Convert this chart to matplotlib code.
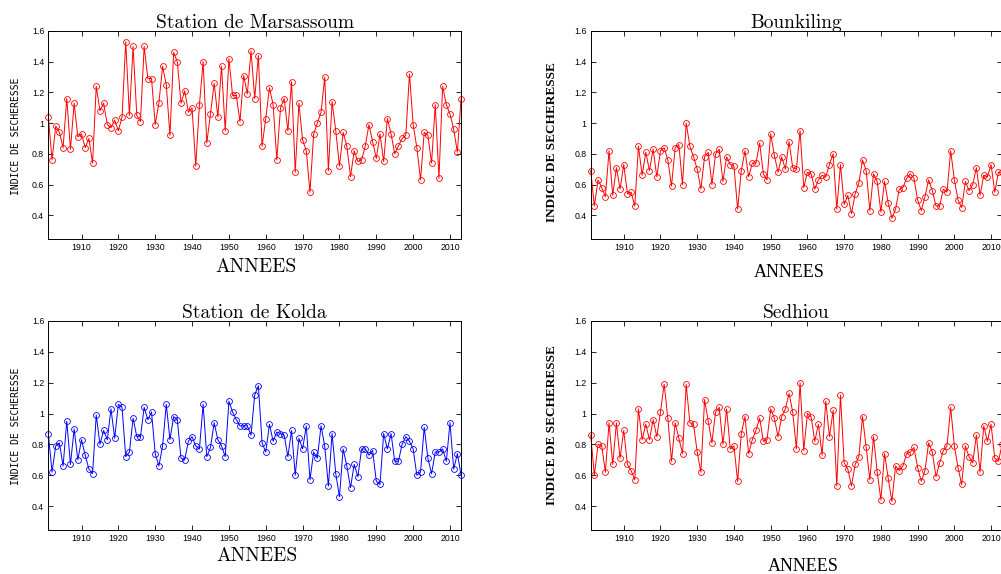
#Drought index plots for the four stations (Marsassoum, Bounkiling, Kolda, Sedhiou)

import matplotlib
matplotlib.use('Agg')
import matplotlib.pyplot as plt

years = list(range(1901, 2014))

marsassoum = [1.04, 0.76, 0.98, 0.94, 0.84, 1.16, 0.83, 1.13, 0.91, 0.93,
	0.84, 0.90, 0.74, 1.24, 1.08, 1.13, 0.99, 0.97, 1.02, 0.95,
	1.04, 1.53, 1.05, 1.50, 1.05, 1.01, 1.50, 1.29, 1.29, 0.99,
	1.13, 1.37, 1.25, 0.92, 1.46, 1.40, 1.13, 1.21, 1.07, 1.10,
	0.72, 1.12, 1.40, 0.87, 1.06, 1.26, 1.04, 1.37, 0.95, 1.42,
	1.18, 1.18, 1.01, 1.31, 1.19, 1.47, 1.16, 1.44, 0.85, 1.03,
	1.23, 1.12, 0.76, 1.10, 1.16, 0.95, 1.27, 0.68, 1.13, 0.89,
	0.82, 0.55, 0.93, 1.00, 1.07, 1.30, 0.69, 1.14, 0.95, 0.72,
	0.94, 0.85, 0.65, 0.82, 0.75, 0.76, 0.85, 0.99, 0.88, 0.77,
	0.93, 0.75, 1.03, 0.93, 0.80, 0.85, 0.90, 0.92, 1.32, 0.99,
	0.84, 0.63, 0.94, 0.92, 0.74, 1.12, 0.64, 1.24, 1.12, 1.06,
	0.96, 0.81, 1.16]

bounkiling = [0.69, 0.46, 0.63, 0.58, 0.52, 0.82, 0.53, 0.71, 0.57, 0.73,
	0.54, 0.55, 0.46, 0.85, 0.66, 0.81, 0.69, 0.83, 0.65, 0.82,
	0.84, 0.76, 0.59, 0.84, 0.86, 0.60, 1.00, 0.85, 0.78, 0.70,
	0.57, 0.78, 0.81, 0.60, 0.80, 0.83, 0.62, 0.78, 0.73, 0.72,
	0.44, 0.69, 0.82, 0.65, 0.74, 0.74, 0.87, 0.67, 0.63, 0.93,
	0.79, 0.68, 0.78, 0.70, 0.88, 0.71, 0.70, 0.95, 0.58, 0.68,
	0.67, 0.57, 0.63, 0.66, 0.65, 0.73, 0.80, 0.44, 0.73, 0.47,
	0.53, 0.41, 0.54, 0.61, 0.76, 0.69, 0.43, 0.67, 0.62, 0.42,
	0.62, 0.48, 0.38, 0.44, 0.57, 0.58, 0.64, 0.67, 0.64, 0.50,
	0.43, 0.52, 0.63, 0.56, 0.46, 0.46, 0.57, 0.55, 0.82, 0.63,
	0.50, 0.45, 0.62, 0.56, 0.60, 0.71, 0.53, 0.66, 0.65, 0.73,
	0.55, 0.68, 0.68]

kolda = [0.87, 0.62, 0.79, 0.81, 0.66, 0.95, 0.67, 0.90, 0.70, 0.83,
	0.73, 0.64, 0.61, 0.99, 0.80, 0.89, 0.83, 1.03, 0.84, 1.06,
	1.04, 0.72, 0.75, 0.97, 0.85, 0.85, 1.04, 0.96, 1.01, 0.74,
	0.66, 0.79, 1.06, 0.83, 0.98, 0.96, 0.71, 0.70, 0.82, 0.85,
	0.79, 0.77, 1.06, 0.72, 0.78, 0.94, 0.83, 0.79, 0.72, 1.08,
	1.01, 0.96, 0.92, 0.92, 0.92, 0.86, 1.12, 1.18, 0.81, 0.75,
	0.93, 0.82, 0.88, 0.87, 0.86, 0.72, 0.89, 0.60, 0.84, 0.77,
	0.92, 0.57, 0.75, 0.71, 0.92, 0.79, 0.53, 0.87, 0.61, 0.46,
	0.77, 0.66, 0.52, 0.67, 0.59, 0.77, 0.77, 0.73, 0.76, 0.56,
	0.54, 0.87, 0.77, 0.87, 0.69, 0.69, 0.80, 0.85, 0.82, 0.77,
	0.60, 0.62, 0.91, 0.71, 0.61, 0.75, 0.75, 0.77, 0.69, 0.94,
	0.64, 0.74, 0.60]

sedhiou = [0.86, 0.60, 0.80, 0.79, 0.62, 0.94, 0.67, 0.94, 0.71, 0.89,
	0.67, 0.63, 0.57, 1.03, 0.83, 0.93, 0.83, 0.96, 0.85, 1.01,
	1.19, 0.97, 0.69, 0.94, 0.84, 0.74, 1.19, 0.94, 0.93, 0.75,
	0.62, 1.09, 0.95, 0.81, 1.01, 1.04, 0.80, 1.03, 0.77, 0.79,
	0.56, 0.87, 0.98, 0.74, 0.83, 0.89, 0.97, 0.82, 0.83, 1.03,
	0.97, 0.85, 0.98, 1.03, 1.13, 1.01, 0.77, 1.20, 0.76, 1.00,
	0.98, 0.82, 0.93, 0.73, 1.08, 0.85, 1.02, 0.53, 1.12, 0.68,
	0.64, 0.53, 0.67, 0.72, 0.98, 0.78, 0.57, 0.85, 0.62, 0.44,
	0.74, 0.58, 0.43, 0.66, 0.63, 0.66, 0.74, 0.75, 0.78, 0.65,
	0.56, 0.63, 0.81, 0.75, 0.59, 0.68, 0.76, 0.79, 1.04, 0.79,
	0.65, 0.54, 0.79, 0.72, 0.68, 0.86, 0.62, 0.92, 0.82, 0.93,
	0.71, 0.69, 0.80]

xticks = [1910, 1920, 1930, 1940, 1950, 1960, 1970, 1980, 1990, 2000, 2010]
yticks = [0.4, 0.6, 0.8, 1.0, 1.2, 1.4, 1.6]
ylabels = ['0.4', '0.6', '0.8', '1', '1.2', '1.4', '1.6']

fig = plt.figure(figsize=(10.01, 5.74), dpi=100)


def Panel(rect, values, colour, title):

	ax = fig.add_axes(rect)
	ax.plot(years, values, '-o', color=colour, lw=0.7, ms=4.2, mfc='none', mew=0.6, clip_on=False)

	ax.set_xlim(1901, 2013)
	ax.set_ylim(0.245, 1.6)
	ax.set_xticks(xticks)
	ax.set_yticks(yticks)
	ax.set_yticklabels(ylabels)
	ax.tick_params(direction='in', top=True, right=True, length=3.5, width=0.6, labelsize=6.3, pad=3)
	for lab in ax.get_xticklabels() + ax.get_yticklabels():
		lab.set_family('Liberation Sans')
	for sp in ax.spines.values():
		sp.set_linewidth(0.7)

	ax.set_title(title, family='cmr10', fontsize=14, pad=2)
	return ax


Panel([0.0483, 0.5836, 0.4123, 0.3624], marsassoum, '#ff0000', 'Station de Marsassoum')
Panel([0.5901, 0.5836, 0.4110, 0.3624], bounkiling, '#ff0000', 'Bounkiling')
Panel([0.0483, 0.0767, 0.4123, 0.3641], kolda, '#0000ff', 'Station de Kolda')
Panel([0.5901, 0.0767, 0.4110, 0.3641], sedhiou, '#ff0000', 'Sedhiou')

# left column labels
fig.text(0.2562, 0.534, 'ANNEES', family='cmr10', fontsize=14, ha='center', va='center')
fig.text(0.2567, 0.0314, 'ANNEES', family='cmr10', fontsize=14, ha='center', va='center')
fig.text(0.016, 0.762, 'INDICE DE SECHERESSE', family='DejaVu Sans Mono', fontsize=7, rotation=90, ha='center', va='center')
fig.text(0.016, 0.257, 'INDICE DE SECHERESSE', family='DejaVu Sans Mono', fontsize=7, rotation=90, ha='center', va='center')

# right column labels
fig.text(0.7887, 0.5253, 'ANNEES', family='Liberation Serif', fontsize=13, ha='center', va='center')
fig.text(0.8027, 0.013, 'ANNEES', family='Liberation Serif', fontsize=13, ha='center', va='center')
fig.text(0.551, 0.7526, 'INDICE DE SECHERESSE', family='Liberation Serif', weight='bold', fontsize=9.5, rotation=90, ha='center', va='center')
fig.text(0.551, 0.2596, 'INDICE DE SECHERESSE', family='Liberation Serif', weight='bold', fontsize=9.5, rotation=90, ha='center', va='center')

plt.savefig('out.png', dpi=100)
plt.close()
